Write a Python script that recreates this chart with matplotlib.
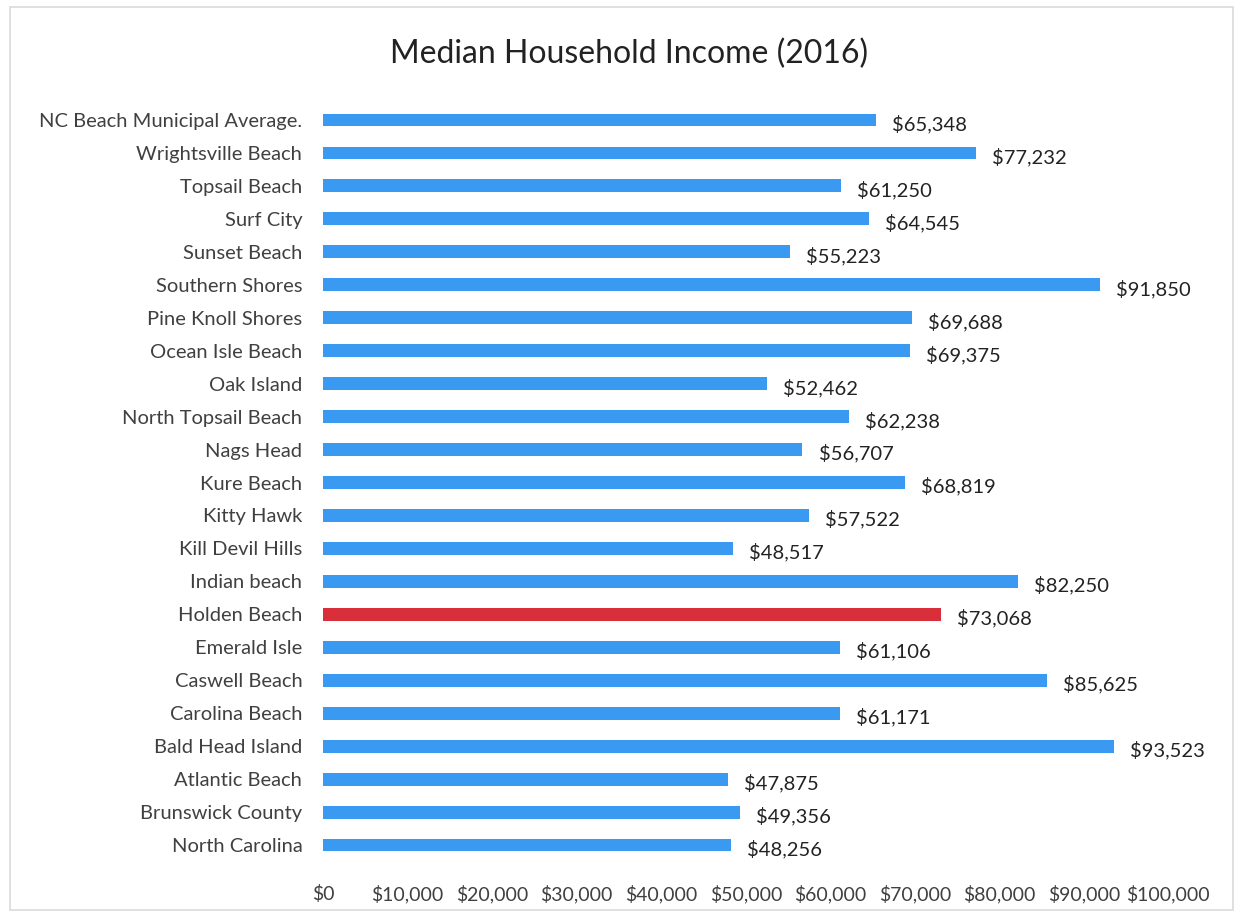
import numpy as np
import matplotlib.pyplot as plt

plt.rcParams['font.family'] = ['Lato', 'DejaVu Sans']

# top to bottom as in the chart
places = ["NC Beach Municipal Average.", "Wrightsville Beach", "Topsail Beach",
          "Surf City", "Sunset Beach", "Southern Shores", "Pine Knoll Shores",
          "Ocean Isle Beach", "Oak Island", "North Topsail Beach", "Nags Head",
          "Kure Beach", "Kitty Hawk", "Kill Devil Hills", "Indian beach",
          "Holden Beach", "Emerald Isle", "Caswell Beach", "Carolina Beach",
          "Bald Head Island", "Atlantic Beach", "Brunswick County", "North Carolina"]
income = [65348, 77232, 61250, 64545, 55223, 91850, 69688, 69375, 52462, 62238,
          56707, 68819, 57522, 48517, 82250, 73068, 61106, 85625, 61171, 93523,
          47875, 49356, 48256]
highlight = "Holden Beach"
xticks = np.arange(0, 100001, 10000)

blue = "#3a9af2"
red = "#d92f3b"
grey = "#404040"

fig = plt.figure(figsize=(12.43, 9.17), dpi=100)
ax = fig.add_axes([0.26, 0.0605, 0.68, 0.8266])

y = np.arange(len(places))
colors = [red if p == highlight else blue for p in places]
ax.barh(y, income, height=0.39, color=colors)
ax.set_ylim(len(places) - 0.5, -0.5)
ax.set_xlim(0, 100000)

for yi, v in zip(y, income):
    ax.text(v + 1900, yi + 0.12, f"${v:,}", va="center", ha="left",
            fontsize=14.5, color="#222222")

ax.set_yticks(y)
ax.set_yticklabels(places, fontsize=14.5, color=grey)
ax.set_xticks(xticks)
ax.set_xticklabels([f"${t:,}" for t in xticks], fontsize=14, color=grey)
ax.tick_params(length=0, axis="y", pad=15)
ax.tick_params(length=0, axis="x", pad=17)
for s in ax.spines.values():
    s.set_visible(False)

fig.text(0.506, 0.941, "Median Household Income (2016)", ha="center", va="center",
         fontsize=23, color="#222222")

# light frame round the chart
fig.patches.append(plt.Rectangle((0.008, 0.008), 0.984, 0.984, transform=fig.transFigure,
                                 fill=False, edgecolor="#d8dcdc", linewidth=1.2))

fig.savefig("out.png", dpi=100)
